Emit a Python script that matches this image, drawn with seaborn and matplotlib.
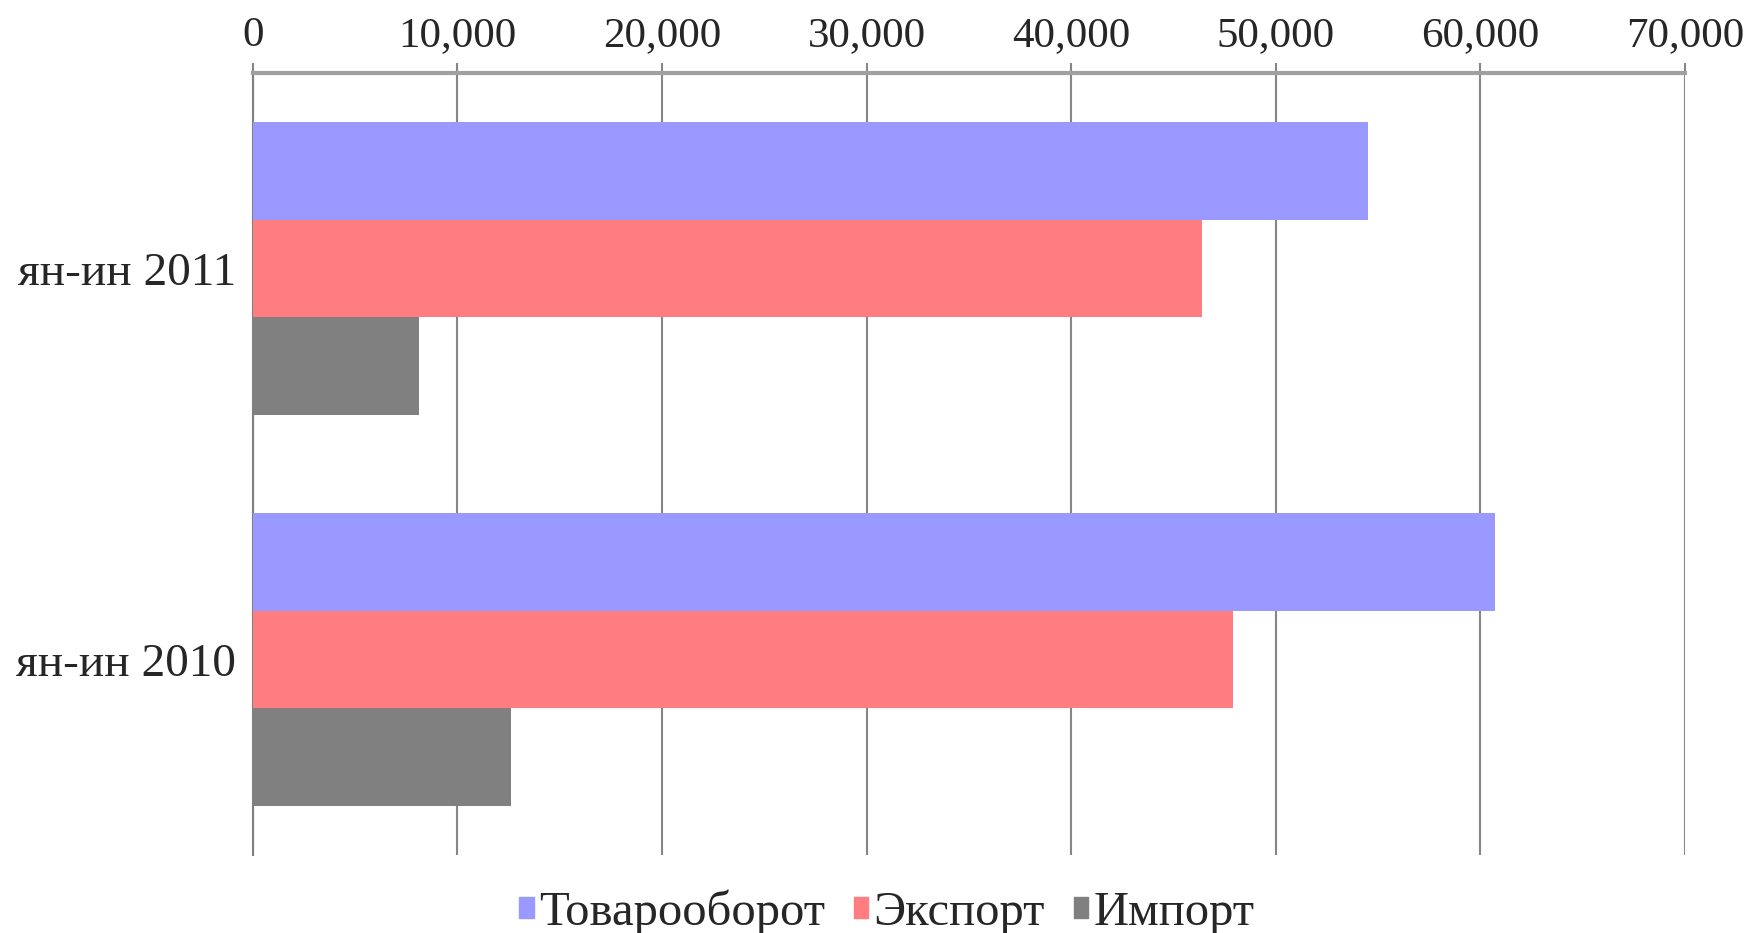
import pandas as pd
import numpy as np
import matplotlib.pyplot as plt
import seaborn as sns
from matplotlib.ticker import FuncFormatter, FixedLocator

# Data
periods = ["ян-ин 2011", "ян-ин 2010"]
series = ["Товарооборот", "Экспорт", "Импорт"]
turnover = [54500, 60700]
export = [46400, 47900]
imports = [8100, 12600]
colors = ["#9999FF", "#FF7C80", "#808080"]

df = pd.DataFrame({
    "period": periods * 3,
    "series": [s for s in series for _ in periods],
    "value": turnover + export + imports,
})

sns.set_style("white")
plt.rcParams["font.family"] = ["Liberation Serif", "DejaVu Serif"]

fig = plt.figure(figsize=(17.56, 9.33), dpi=100)
ax = fig.add_axes([0.144, 0.0836, 0.8156, 0.8382])

sns.barplot(data=df, x="value", y="period", hue="series", order=periods,
            hue_order=series, palette=colors, orient="h", width=0.75,
            saturation=1, linewidth=0, ax=ax, zorder=3)

ax.set_xlim(0, 70000)
ax.set_xticks(np.arange(0, 70001, 10000))
ax.xaxis.set_major_formatter(FuncFormatter(lambda v, p: f"{v:,.0f}"))
ax.xaxis.tick_top()
ax.grid(axis="x", color="#868686", linewidth=1.5, zorder=0)
ax.set_axisbelow(True)
ax.set_xlabel("")
ax.set_ylabel("")

ax.tick_params(axis="x", which="major", length=7, width=1.5, color="#868686",
               pad=6, labelsize=31)
ax.tick_params(axis="y", which="major", length=0, pad=12, labelsize=34)
ax.yaxis.set_minor_locator(FixedLocator([0.5, 1.5]))
ax.tick_params(axis="y", which="minor", length=8, width=1.5, color="#868686")

for side in ["right", "bottom"]:
    ax.spines[side].set_visible(False)
ax.spines["top"].set_color("#a0a0a0")
ax.spines["top"].set_linewidth(3)
ax.spines["left"].set_color("#808080")
ax.spines["left"].set_linewidth(1.5)

ax.legend_.remove()
handles = [plt.Rectangle((0, 0), 1, 1, color=c) for c in colors]
fig.legend(handles, series, loc="lower center", bbox_to_anchor=(0.505, -0.028),
           ncol=3, frameon=False, fontsize=35, handlelength=0.3,
           handleheight=0.3, handletextpad=0.1, columnspacing=0.6,
           borderpad=0)

fig.savefig("out.png", dpi=100)
